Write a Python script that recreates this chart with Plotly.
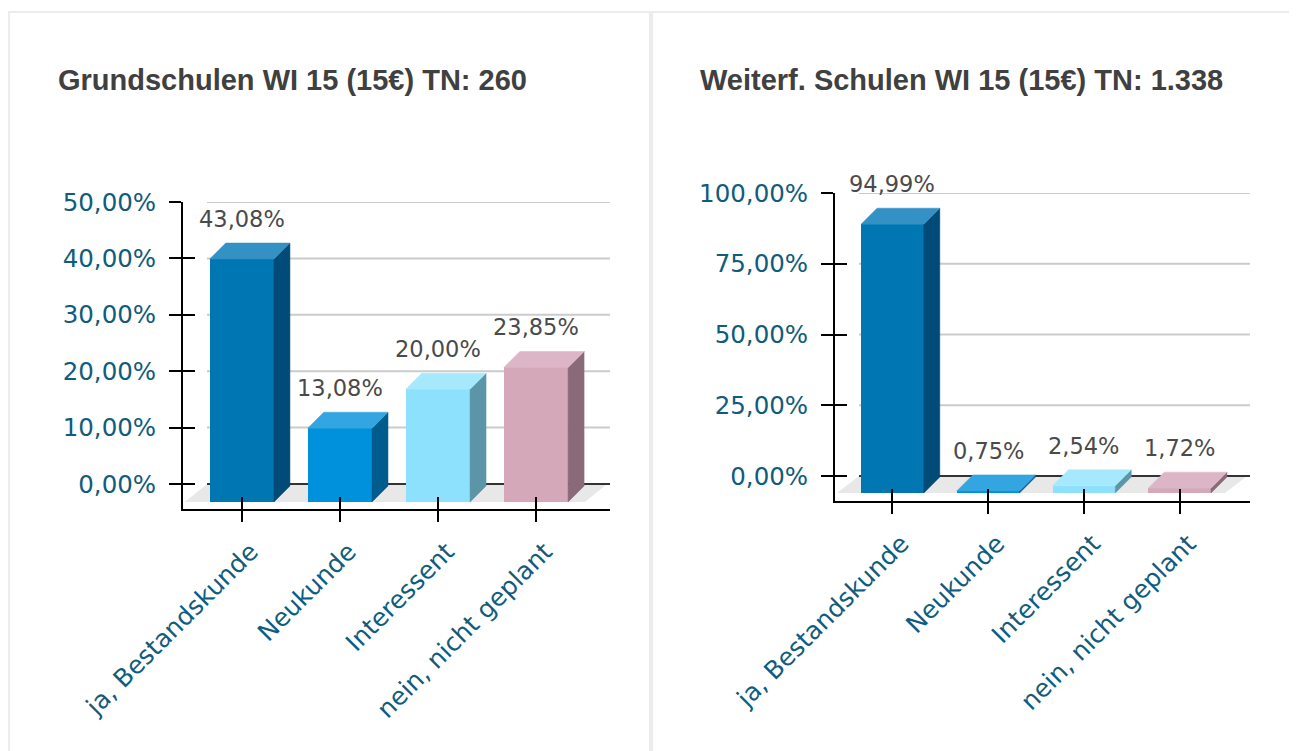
import plotly.graph_objects as go

# ---------------- data ----------------
categories = ["ja, Bestandskunde", "Neukunde", "Interessent", "nein, nicht geplant"]

left_title = "Grundschulen WI 15 (15€) TN: 260"
left_values = [43.08, 13.08, 20.00, 23.85]
left_ticks = [0, 10, 20, 30, 40, 50]

right_title = "Weiterf. Schulen WI 15 (15€) TN: 1.338"
right_values = [94.99, 0.75, 2.54, 1.72]
right_ticks = [0, 25, 50, 75, 100]

# ---------------- styles ----------------
front_colors = ["#0077b3", "#0091dc", "#8de1fc", "#d4a7b9"]
top_colors = ["#3391c4", "#33a6e1", "#a6e9fd", "#dcb6c6"]
side_colors = ["#004b78", "#005c8d", "#5c94a8", "#8a6978"]
TEAL = "#0f5c7d"
OFF = 8                      # page body margin
W, H = 1297 - OFF, 751 - OFF


def fmt(v):
    return f"{v:.2f}".replace(".", ",") + "%"


panels = [
    dict(values=left_values, ticks=left_ticks, title=left_title, title_x=56,
         x_px=(183, 610), y_px=(202, 509), xrange=(-0.6, 3.755),
         ytop=50, zero_px=484, drop=18, ax="", ov=3),
    dict(values=right_values, ticks=right_ticks, title=right_title, title_x=698,
         x_px=(835, 1250), y_px=(193, 501), xrange=(-0.6, 3.735),
         ytop=100, zero_px=476, drop=17, ax="2", ov=4),
]

DX, DY = 16, 16      # bar depth in px
FX = 22              # floor depth in px (x)
BAR_W = 0.655

fig = go.Figure()
shapes = []
annotations = []

for p in panels:
    xa = "x" + p["ax"]
    ya = "y" + p["ax"]
    ppu = (p["zero_px"] - p["y_px"][0]) / p["ytop"]
    ymin = -(p["y_px"][1] - p["zero_px"]) / ppu
    x0r, x1r = p["xrange"]
    pxc = (p["x_px"][1] - p["x_px"][0]) / (x1r - x0r)
    yf = -p["drop"] / ppu
    dxu = DX / pxc
    dyu = DY / ppu
    fxu = FX / pxc

    # floor (below)
    fl = x0r + 2 / pxc
    fr = x1r - fxu - 3 / pxc
    shapes.append(dict(type="path", xref=xa, yref=ya, layer="below",
                       path=f"M {fl},{yf} L {fr},{yf} L {fr + fxu},0 L {fl + fxu},0 Z",
                       fillcolor="#e8e8e8", line=dict(width=0)))
    # back-wall gridlines
    for t in p["ticks"]:
        shapes.append(dict(type="line", xref=xa, yref=ya, layer="below",
                           x0=x0r + 24 / pxc, x1=x1r, y0=t, y1=t,
                           line=dict(color="#333333" if t == 0 else "#cbcbcb", width=2)))

    # front faces
    fig.add_trace(go.Bar(x=list(range(len(categories))), y=p["values"], base=yf,
                         width=BAR_W, marker=dict(color=front_colors, line=dict(width=0)),
                         xaxis=xa, yaxis=ya, hoverinfo="skip", showlegend=False))
    # side & top faces
    for j, v in enumerate(p["values"]):
        xl = j - BAR_W / 2
        xr = j + BAR_W / 2
        top = yf + v
        fig.add_trace(go.Scatter(
            x=[xr, xr + dxu, xr + dxu, xr, xr],
            y=[yf, yf + dyu, top + dyu, top, yf],
            fill="toself", fillcolor=side_colors[j], mode="lines",
            line=dict(color=side_colors[j], width=0.5),
            xaxis=xa, yaxis=ya, hoverinfo="skip", showlegend=False))
        fig.add_trace(go.Scatter(
            x=[xl, xr, xr + dxu, xl + dxu, xl],
            y=[top, top, top + dyu, top + dyu, top],
            fill="toself", fillcolor=top_colors[j], mode="lines",
            line=dict(color=top_colors[j], width=0.5),
            xaxis=xa, yaxis=ya, hoverinfo="skip", showlegend=False))
        annotations.append(dict(xref=xa, yref=ya, x=j, y=top + dyu, text=fmt(v),
                                showarrow=False, yanchor="bottom", yshift=9,
                                font=dict(family="DejaVu Sans", size=22.5, color="#4a4a4a")))

    # overlay axes for crossing ticks
    oxa = "x" + str(p["ov"])
    oya = "y" + str(p["ov"])
    fig.add_trace(go.Scatter(x=[None], y=[None], xaxis=oxa, yaxis=oya,
                             showlegend=False, hoverinfo="skip"))

    xdom = [(p["x_px"][0] - OFF) / W, (p["x_px"][1] - OFF) / W]
    ydom = [1 - (p["y_px"][1] - OFF) / H, 1 - (p["y_px"][0] - OFF) / H]
    common_x = dict(domain=xdom, range=[x0r, x1r], showgrid=False, zeroline=False,
                    automargin=False, tickvals=list(range(len(categories))))
    common_y = dict(domain=ydom, range=[ymin, p["ytop"]], showgrid=False, zeroline=False,
                    automargin=False, tickvals=p["ticks"])
    key = p["ax"]
    fig.update_layout(**{
        "xaxis" + key: dict(**common_x, anchor=ya, ticktext=categories, tickangle=-45,
                            ticks="outside", ticklen=11, tickwidth=2, tickcolor="black",
                            ticklabelshift=9, ticklabelstandoff=5,
                            showline=True, linecolor="black", linewidth=2,
                            tickfont=dict(family="DejaVu Sans", size=25, color=TEAL)),
        "yaxis" + key: dict(**common_y, anchor=xa, ticktext=[fmt(t) for t in p["ticks"]],
                            ticks="outside", ticklen=12, tickwidth=2, tickcolor="black",
                            ticklabelstandoff=8,
                            showline=True, linecolor="black", linewidth=2,
                            tickfont=dict(family="DejaVu Sans", size=24.5, color=TEAL)),
        "xaxis" + str(p["ov"]): dict(**common_x, overlaying=xa, anchor=oya,
                                     ticks="inside", ticklen=12, tickwidth=2,
                                     tickcolor="black", showticklabels=False, showline=False),
        "yaxis" + str(p["ov"]): dict(**common_y, overlaying=ya, anchor=oxa,
                                     ticks="inside", ticklen=12, tickwidth=2,
                                     tickcolor="black", showticklabels=False, showline=False),
    })

    annotations.append(dict(xref="paper", yref="paper", x=(p["title_x"] - OFF) / W,
                            y=1 - (80 - OFF) / H,
                            xanchor="left", yanchor="middle", showarrow=False,
                            text="<b>" + p["title"] + "</b>",
                            font=dict(family="Liberation Sans", size=29, color="#404040")))

# card borders
for (cx0, cx1) in [(9, 650), (652, 1291)]:
    shapes.append(dict(type="rect", xref="paper", yref="paper",
                       x0=(cx0 - OFF) / W, x1=(cx1 - OFF) / W, y0=-0.05,
                       y1=1 - (12 - OFF) / H,
                       line=dict(color="#ececec", width=2), layer="below"))

fig.update_layout(width=W, height=H, margin=dict(l=0, r=0, t=0, b=0, autoexpand=False),
                  paper_bgcolor="white", plot_bgcolor="rgba(0,0,0,0)",
                  shapes=shapes, annotations=annotations, showlegend=False,
                  hovermode=False, bargap=0)

fig.write_html("out.html")
